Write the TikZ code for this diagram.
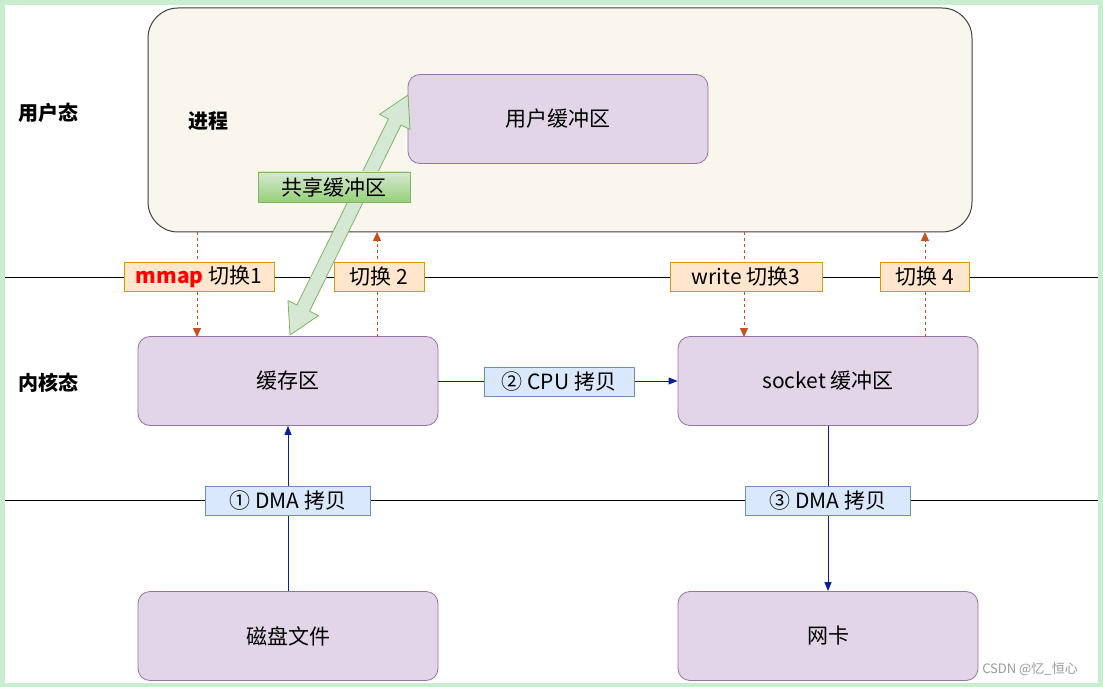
\documentclass[tikz,border=0pt]{standalone}
\usepackage{fontspec}
\setmainfont{Noto Sans CJK SC}
\usetikzlibrary{arrows.meta}
\definecolor{frame}{HTML}{C8EDCF}
\definecolor{procfill}{HTML}{F9F7ED}
\definecolor{pfill}{HTML}{E1D5E7}
\definecolor{pdraw}{HTML}{9673A6}
\definecolor{ofill}{HTML}{FFE6CC}
\definecolor{odraw}{HTML}{D79B00}
\definecolor{bfill}{HTML}{DAE8FC}
\definecolor{bdraw}{HTML}{6C8EBF}
\definecolor{gfill}{HTML}{D5E8D4}
\definecolor{gdark}{HTML}{97D077}
\definecolor{gdraw}{HTML}{82B366}
\definecolor{darr}{HTML}{C8501E}
\definecolor{barr}{HTML}{0A1EA0}
\tikzset{
  txt/.style={font=\fontsize{21}{25}\selectfont},
  pbox/.style={txt,draw=pdraw,fill=pfill,rounded corners=12pt,minimum width=300pt,minimum height=89pt,line width=0.8pt},
  olab/.style={txt,draw=odraw,fill=ofill,minimum height=29pt,inner xsep=6pt,inner ysep=0pt,line width=0.8pt},
  blab/.style={txt,draw=bdraw,fill=bfill,minimum height=29pt,inner xsep=6pt,inner ysep=0pt,line width=0.8pt},
  darrow/.style={draw=darr,dashed,line width=1pt,-{Triangle[length=9pt,width=8pt]}},
  barrow/.style={draw=barr,line width=1pt,-{Triangle[length=9pt,width=7pt]}},
  side/.style={font=\fontsize{20}{24}\selectfont\bfseries}
}
\begin{document}
\begin{tikzpicture}[x=1pt,y=-1pt]
\useasboundingbox (0,0) rectangle (1103,687);
\fill[frame] (0,0) rectangle (1103,687);
\fill[white] (5,5) rectangle (1098,683);
% process box
\node[draw=black!75,fill=procfill,rounded corners=30pt,minimum width=824pt,minimum height=224pt,line width=1pt] (proc) at (560,120) {};
\node[side] (jc) at (208,121) {进程};
\node[side] (ut) at (48,113) {用户态};
\node[side] (kt) at (48,383) {内核态};
\node[pbox] (ubuf) at (558,119) {用户缓冲区};
% lines
\coordinate (l1a) at (5,277); \coordinate (l1b) at (1098,277);
\coordinate (l2a) at (5,500); \coordinate (l2b) at (1098,500);
\draw[line width=0.8pt] (l1a) -- (l1b);
\draw[line width=0.8pt] (l2a) -- (l2b);
% kernel boxes
\node[pbox] (cache) at (288,381) {缓存区};
\node[pbox] (sock) at (828,381) {socket 缓冲区};
\node[pbox] (disk) at (288,636) {磁盘文件};
\node[pbox] (nic) at (828,636) {网卡};
% dashed switches
\coordinate (s1t) at (197,232); \coordinate (s1b) at (197,337);
\coordinate (s2t) at (377,232); \coordinate (s2b) at (377,337);
\coordinate (s3t) at (744,232); \coordinate (s3b) at (744,337);
\coordinate (s4t) at (925,232); \coordinate (s4b) at (925,337);
\draw[darrow] (s1t) -- (s1b);
\draw[darrow] (s2b) -- (s2t);
\draw[darrow] (s3t) -- (s3b);
\draw[darrow] (s4b) -- (s4t);
\node[olab,minimum width=150pt] (m1) at (199,277) {\textcolor{red}{\bfseries mmap}\ 切换1};
\node[olab,minimum width=90pt] (m2) at (379,277) {切换 2};
\node[olab,minimum width=152pt] (m3) at (746,277) {write 切换3};
\node[olab,minimum width=89pt] (m4) at (925,277) {切换 4};
% shared buffer double arrow
\draw[draw=gdraw,fill=gfill,line width=0.8pt,line join=round]
  (290,335) -- (318.50,315.58) -- (309.52,311.17) -- (401.04,125.02) -- (410.02,129.43)
  -- (408,95) -- (379.50,114.43) -- (388.48,118.84) -- (296.96,304.99) -- (287.98,300.58) -- cycle;
\node[txt,draw=gdraw,top color=gfill,bottom color=gdark,minimum width=152pt,minimum height=30pt,inner ysep=0pt] (sl) at (334,187) {共享缓冲区};
% blue copies
\draw[barrow] (cache.east) -- (sock.west);
\node[blab,minimum width=150pt] (c2) at (559,382) {② CPU 拷贝};
\draw[barrow] (disk.north) -- (cache.south);
\node[blab,minimum width=165pt] (c1) at (288,501) {① DMA 拷贝};
\draw[barrow] (sock.south) -- (nic.north);
\node[blab,minimum width=165pt] (c3) at (828,501) {③ DMA 拷贝};
\node[font=\fontsize{13}{15}\selectfont,text=black!40] (wm) at (1030,669) {CSDN @忆\_恒心};
\end{tikzpicture}
\end{document}
